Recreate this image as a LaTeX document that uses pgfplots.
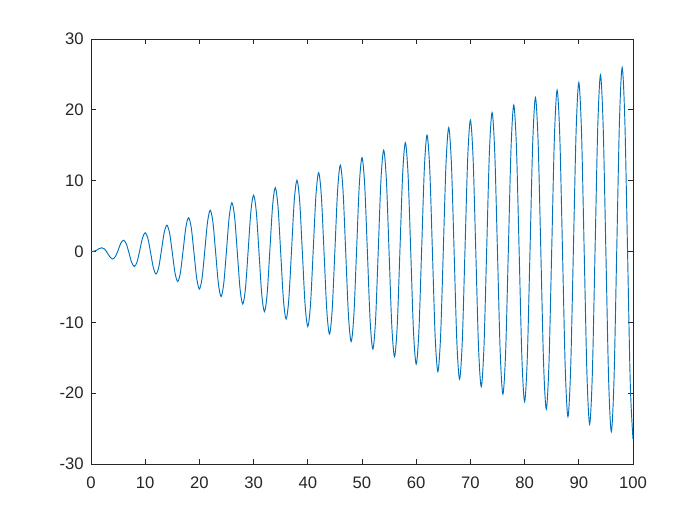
\documentclass[border=0pt]{standalone}
\usepackage{fontspec}
\setmainfont{Liberation Sans}
\usepackage{pgfplots}
\pgfplotsset{compat=1.18}
\definecolor{mlblue}{HTML}{0072BD}
\definecolor{axgray}{HTML}{262626}

\pgfplotstableread{
t y
0 0
0.5 0.03
1 0.17
1.5 0.40
2 0.53
2.5 0.35
3 -0.17
3.5 -0.78
4 -1.06
4.5 -0.72
5 0.17
5.5 1.15
6 1.59
6.5 1.10
7 -0.17
7.5 -1.53
8 -2.12
8.5 -1.47
9 0.17
9.5 1.90
10 2.65
10.5 1.85
11 -0.17
11.5 -2.27
12 -3.18
12.5 -2.22
13 0.17
13.5 2.65
14 3.71
14.5 2.60
15 -0.17
15.5 -3.02
16 -4.24
16.5 -2.97
17 0.17
17.5 3.40
18 4.77
18.5 3.35
19 -0.17
19.5 -3.77
20 -5.30
20.5 -3.72
21 0.17
21.5 4.15
22 5.83
22.5 4.10
23 -0.17
23.5 -4.52
24 -6.36
24.5 -4.47
25 0.17
25.5 4.90
26 6.89
26.5 4.85
27 -0.17
27.5 -5.27
28 -7.42
28.5 -5.22
29 0.17
29.5 5.65
30 7.95
30.5 5.60
31 -0.17
31.5 -6.02
32 -8.48
32.5 -5.97
33 0.17
33.5 6.40
34 9.01
34.5 6.35
35 -0.17
35.5 -6.77
36 -9.54
36.5 -6.72
37 0.17
37.5 7.15
38 10.07
38.5 7.10
39 -0.17
39.5 -7.52
40 -10.60
40.5 -7.47
41 0.17
41.5 7.90
42 11.13
42.5 7.85
43 -0.17
43.5 -8.27
44 -11.66
44.5 -8.22
45 0.17
45.5 8.65
46 12.19
46.5 8.59
47 -0.17
47.5 -9.02
48 -12.72
48.5 -8.97
49 0.17
49.5 9.40
50 13.25
50.5 9.34
51 -0.17
51.5 -9.77
52 -13.78
52.5 -9.72
53 0.17
53.5 10.15
54 14.31
54.5 10.09
55 -0.17
55.5 -10.52
56 -14.84
56.5 -10.47
57 0.17
57.5 10.90
58 15.37
58.5 10.84
59 -0.17
59.5 -11.27
60 -15.90
60.5 -11.22
61 0.17
61.5 11.64
62 16.43
62.5 11.59
63 -0.17
63.5 -12.02
64 -16.96
64.5 -11.97
65 0.17
65.5 12.39
66 17.49
66.5 12.34
67 -0.17
67.5 -12.77
68 -18.02
68.5 -12.72
69 0.17
69.5 13.14
70 18.55
70.5 13.09
71 -0.17
71.5 -13.52
72 -19.08
72.5 -13.47
73 0.17
73.5 13.89
74 19.61
74.5 13.84
75 -0.17
75.5 -14.27
76 -20.14
76.5 -14.22
77 0.17
77.5 14.64
78 20.67
78.5 14.59
79 -0.17
79.5 -15.02
80 -21.20
80.5 -14.97
81 0.17
81.5 15.39
82 21.73
82.5 15.34
83 -0.17
83.5 -15.77
84 -22.26
84.5 -15.72
85 0.17
85.5 16.14
86 22.79
86.5 16.09
87 -0.17
87.5 -16.52
88 -23.32
88.5 -16.47
89 0.17
89.5 16.89
90 23.85
90.5 16.84
91 -0.17
91.5 -17.27
92 -24.38
92.5 -17.22
93 0.17
93.5 17.64
94 24.91
94.5 17.59
95 -0.17
95.5 -18.02
96 -25.44
96.5 -17.96
97 0.17
97.5 18.39
98 25.97
98.5 18.34
99 -0.17
99.5 -18.77
100 -26.50
}\response

\begin{document}
\begin{tikzpicture}
% page = 700x525 px at 0.75pt per px
\useasboundingbox (-68.25pt,-45.75pt) rectangle (456.75pt,348pt);
\begin{axis}[
at={(0pt,0pt)},anchor=south west,
scale only axis,
width=406.5pt,height=318.75pt,
xmin=0,xmax=100,ymin=-30,ymax=30,
xtick={0,10,...,100},
ytick={-30,-20,...,30},
xticklabels={0,10,20,30,40,50,60,70,80,90,100},
yticklabels={-30,-20,-10,0,10,20,30},
tick align=inside,tick pos=both,
major tick length=4pt,
axis line style={axgray,line width=0.6pt},
tick style={axgray,line width=0.6pt},
ticklabel style={font=\fontsize{12.5}{14}\selectfont,text=axgray},
xticklabel style={yshift=-6pt},
yticklabel style={xshift=-2pt},
]
\addplot[mlblue,line width=0.7pt,smooth] table[x=t,y=y] {\response};
\end{axis}
\end{tikzpicture}
\end{document}
